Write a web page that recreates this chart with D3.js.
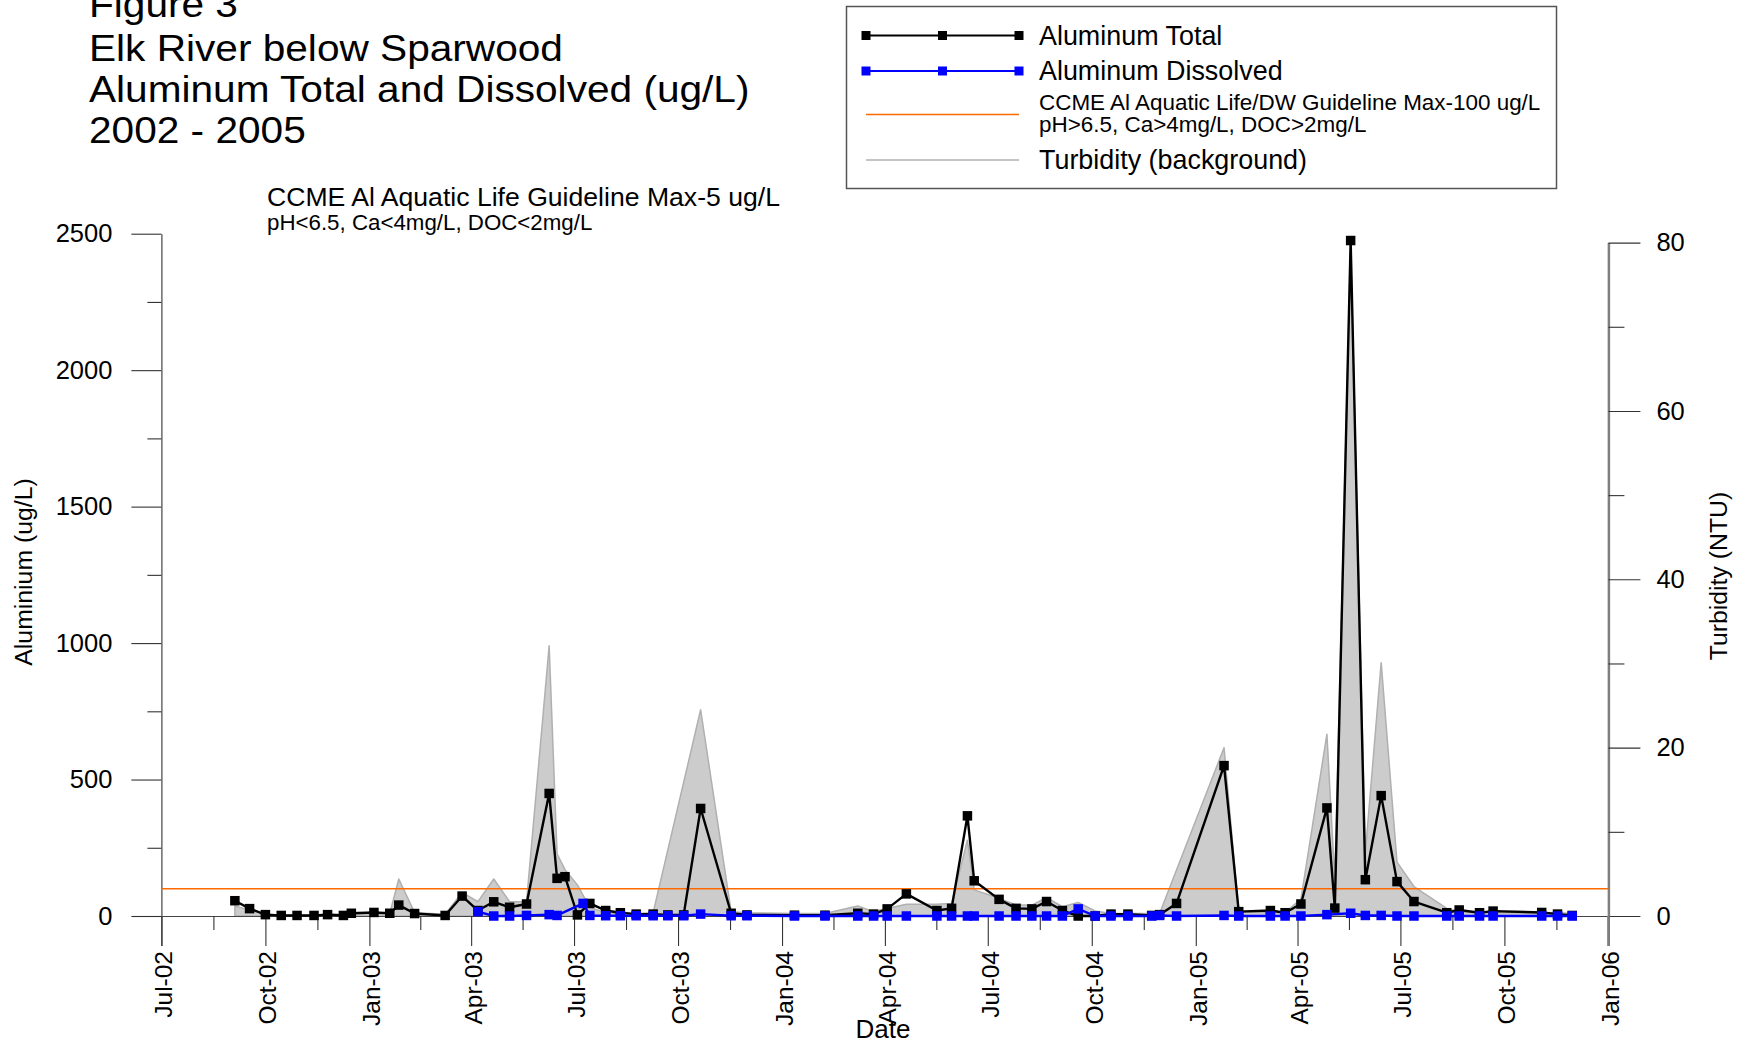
<!DOCTYPE html>
<html>
<head>
<meta charset="utf-8">
<script src="https://cdn.jsdelivr.net/npm/d3@7"></script>
<style>
  html, body { margin: 0; padding: 0; background: #ffffff; }
  svg { display: block; font-family: "Liberation Sans", Arial, sans-serif; }
</style>
</head>
<body>
<svg id="chart" width="1745" height="1044"></svg>
<script>
// ---------------- DATA ----------------
const titleLines = ["Figure 3", "Elk River below Sparwood", "Aluminum Total and Dissolved (ug/L)", "2002 - 2005"];
const subtitleLines = ["CCME Al Aquatic Life Guideline Max-5 ug/L", "pH<6.5, Ca<4mg/L, DOC<2mg/L"];
const legendLabels = ["Aluminum Total", "Aluminum Dissolved",
  "CCME Al Aquatic Life/DW Guideline Max-100 ug/L", "pH>6.5, Ca>4mg/L, DOC>2mg/L",
  "Turbidity (background)"];
const leftAxisTitle = "Aluminium (ug/L)";
const rightAxisTitle = "Turbidity (NTU)";
const xAxisTitle = "Date";

const xTickLabels = ["Jul-02","Oct-02","Jan-03","Apr-03","Jul-03","Oct-03","Jan-04","Apr-04",
  "Jul-04","Oct-04","Jan-05","Apr-05","Jul-05","Oct-05","Jan-06"];
const leftTicks = [0, 500, 1000, 1500, 2000, 2500];
const leftMinorTicks = [250, 750, 1250, 1750, 2250];
const rightTicks = [0, 20, 40, 60, 80];
const rightMinorTicks = [10, 30, 50, 70];
const guidelineValue = 100;

const totalDates = ["2002-09-04","2002-09-17","2002-10-01","2002-10-15","2002-10-29","2002-11-13",
  "2002-11-25","2002-12-09","2002-12-16","2003-01-05","2003-01-19","2003-01-27","2003-02-10",
  "2003-03-09","2003-03-24","2003-04-07","2003-04-21","2003-05-05","2003-05-20","2003-06-09",
  "2003-06-16","2003-06-23","2003-07-04","2003-07-15","2003-07-29","2003-08-11","2003-08-25",
  "2003-09-09","2003-09-22","2003-10-06","2003-10-21","2003-11-17","2003-12-01","2004-01-12",
  "2004-02-08","2004-03-08","2004-03-22","2004-04-03","2004-04-20","2004-05-17","2004-05-30",
  "2004-06-13","2004-06-19","2004-07-11","2004-07-26","2004-08-09","2004-08-22","2004-09-05",
  "2004-09-19","2004-10-04","2004-10-18","2004-11-02","2004-11-23","2004-11-30","2004-12-15",
  "2005-01-26","2005-02-08","2005-03-08","2005-03-21","2005-04-04","2005-04-27","2005-05-04",
  "2005-05-18","2005-05-31","2005-06-14","2005-06-28","2005-07-13","2005-08-11","2005-08-22",
  "2005-09-09","2005-09-21","2005-11-03","2005-11-17","2005-11-30"];
const totalValues = [56,27,5,2,2,2,
  5,2,10,13,10,40,9,
  2,73,20,52,32,44,449,
  138,144,4,46,20,12,7,
  7,4,4,394,10,4,3,
  3,10,7,26,81,20,28,
  367,129,61,28,26,53,20,
  0,0,7,7,2,5,46,
  551,16,20,12,44,396,29,
  2475,133,441,126,53,12,22,
  12,18,13,7,2];

const dissolvedDates = ["2003-04-07","2003-04-21","2003-05-05","2003-05-20","2003-06-09","2003-06-16",
  "2003-07-09","2003-07-15","2003-07-29","2003-08-11","2003-08-25","2003-09-09","2003-09-22",
  "2003-10-06","2003-10-21","2003-11-17","2003-12-01","2004-01-12","2004-02-08","2004-03-08",
  "2004-03-22","2004-04-03","2004-04-20","2004-05-17","2004-05-30","2004-06-13","2004-06-19",
  "2004-07-11","2004-07-26","2004-08-09","2004-08-22","2004-09-05","2004-09-19","2004-10-04",
  "2004-10-18","2004-11-02","2004-11-23","2004-11-30","2004-12-15","2005-01-26","2005-02-08",
  "2005-03-08","2005-03-21","2005-04-04","2005-04-27","2005-05-18","2005-05-31","2005-06-14",
  "2005-06-28","2005-07-13","2005-08-11","2005-08-22","2005-09-09","2005-09-21","2005-11-03",
  "2005-11-17","2005-11-30"];
const dissolvedValues = [16,0,0,2,5,2,
  46,2,1,1,1,1,1,
  1,7,1,1,0,0,0,
  0,0,0,0,0,0,0,
  0,0,0,0,0,26,0,
  0,0,0,2,0,2,0,
  0,0,0,5,10,2,2,
  0,0,0,0,0,0,0,
  0,0];

const turbidityDates = ["2002-09-04","2002-09-17","2002-10-01","2002-10-15","2002-10-29","2002-11-13",
  "2002-11-25","2002-12-09","2002-12-16","2003-01-05","2003-01-19","2003-01-27","2003-02-10",
  "2003-03-09","2003-03-24","2003-04-07","2003-04-21","2003-05-05","2003-05-20","2003-06-09",
  "2003-06-16","2003-06-23","2003-07-04","2003-07-15","2003-07-29","2003-08-11","2003-08-25",
  "2003-09-09","2003-10-21","2003-11-17","2003-12-01","2004-01-12","2004-02-08","2004-03-08",
  "2004-03-22","2004-04-03","2004-04-20","2004-05-17","2004-05-30","2004-06-13","2004-06-19",
  "2004-07-11","2004-07-26","2004-08-09","2004-08-22","2004-09-05","2004-09-19","2004-10-04",
  "2004-10-18","2004-11-02","2004-11-23","2004-11-30","2005-01-26","2005-02-08","2005-03-08",
  "2005-03-21","2005-04-04","2005-04-27","2005-05-04","2005-05-18","2005-05-31","2005-06-14",
  "2005-06-28","2005-07-13","2005-08-11","2005-08-22","2005-09-09","2005-09-21","2005-11-03",
  "2005-11-17","2005-11-30"];
const turbidityValues = [1.2,0.7,0.2,0.1,0.1,0.1,
  0.2,0.2,0.2,0.3,0.3,4.4,0.4,
  0.2,2.8,1.7,4.4,1.7,1.7,32.1,
  7.4,5.5,3.7,1.0,0.4,0.3,0.3,
  0.4,24.5,0.5,0.4,0.3,0.3,1.2,
  0.5,0.9,1.4,1.4,1.5,9,3.1,
  2.1,1.3,1.3,2.2,1.1,1.6,0.6,
  0.3,0.3,0.3,0.3,20,0.5,0.4,
  0.4,2.0,21.6,4.2,79.4,7.5,30.1,
  6.4,3.5,0.9,0.5,0.4,0.4,0.4,
  0.4,0.3];

// ---------------- DRAW ----------------
const parse = d3.timeParse("%Y-%m-%d");
const parseTick = d3.timeParse("%b-%y");
const fmtTick = d3.timeFormat("%b-%y");
const FONT = "Liberation Sans, Arial, sans-serif";

const svg = d3.select("#chart");
const W = 1745, H = 1044;
svg.append("rect").attr("width", W).attr("height", H).attr("fill", "#fff");

const plotLeft = 161.4, plotRight = 1608.4, plotBottom = 916;
const tickDates = xTickLabels.map(parseTick);
const x = d3.scaleTime().domain([tickDates[0], tickDates[tickDates.length - 1]]).range([plotLeft, plotRight]);
const yL = d3.scaleLinear().domain([0, 2500]).range([plotBottom, 233.7]);
const yR = d3.scaleLinear().domain([0, 80]).range([plotBottom, 242.6]);

const total = totalDates.map((d, i) => ({ date: parse(d), v: totalValues[i] }));
const dissolved = dissolvedDates.map((d, i) => ({ date: parse(d), v: dissolvedValues[i] }));
const turb = turbidityDates.map((d, i) => ({ date: parse(d), v: turbidityValues[i] }));

// Titles (slightly condensed font size, stretched horizontally to match widths)
const tg = svg.append("g");
const titleY = [17, 61, 101.5, 142.5];
const titleSize = 36, titleTarget = 40.6;
titleLines.forEach((t, i) => {
  const el = tg.append("text").attr("x", 89).attr("y", titleY[i]).attr("font-size", titleSize).attr("fill", "#000").text(t);
  const len = el.node().getComputedTextLength();
  el.attr("textLength", len * titleTarget / titleSize).attr("lengthAdjust", "spacingAndGlyphs");
});
tg.append("text").attr("x", 267).attr("y", 206).attr("font-size", 26.6).text(subtitleLines[0]);
tg.append("text").attr("x", 267).attr("y", 230).attr("font-size", 22.3).text(subtitleLines[1]);

// Turbidity area (right axis)
const area = d3.area().x(d => x(d.date)).y0(yR(0)).y1(d => yR(d.v));
svg.append("path").datum(turb).attr("d", area)
  .attr("fill", "#cccccc").attr("stroke", "#b0b0b0").attr("stroke-width", 1.5).attr("stroke-linejoin", "round");

// X axis (bottom) major + minor ticks
const xAxisG = svg.append("g").attr("transform", `translate(0,${plotBottom})`);
xAxisG.call(d3.axisBottom(x).tickValues(tickDates).tickSize(30).tickFormat(fmtTick));
xAxisG.select(".domain").attr("stroke", "#444").attr("stroke-width", 1.2);
xAxisG.selectAll(".tick line").attr("stroke", "#333").attr("stroke-width", 1.1);
xAxisG.selectAll(".tick text")
  .attr("transform", "rotate(-90)")
  .attr("x", -35).attr("y", 0).attr("dy", "0.42em")
  .attr("text-anchor", "end")
  .attr("font-size", 24.5).attr("font-family", FONT).attr("fill", "#000");
const minorX = d3.pairs(tickDates).map(([a, b]) => new Date((+a + +b) / 2));
const xMinorG = svg.append("g").attr("transform", `translate(0,${plotBottom})`);
xMinorG.call(d3.axisBottom(x).tickValues(minorX).tickSize(14).tickFormat(""));
xMinorG.select(".domain").remove();
xMinorG.selectAll(".tick line").attr("stroke", "#333").attr("stroke-width", 1.1);

// Left axis
const yLG = svg.append("g").attr("transform", `translate(${plotLeft},0)`);
yLG.call(d3.axisLeft(yL).tickValues(leftTicks).tickSize(30).tickPadding(19).tickSizeOuter(0).tickFormat(d3.format("d")));
yLG.select(".domain").attr("stroke", "#444").attr("stroke-width", 1.2);
yLG.selectAll(".tick line").attr("stroke", "#333").attr("stroke-width", 1.1);
yLG.selectAll(".tick text").attr("font-size", 25.5).attr("font-family", FONT).attr("fill", "#000");
const yLMinor = svg.append("g").attr("transform", `translate(${plotLeft},0)`);
yLMinor.call(d3.axisLeft(yL).tickValues(leftMinorTicks).tickSize(14).tickFormat(""));
yLMinor.select(".domain").remove();
yLMinor.selectAll(".tick line").attr("stroke", "#333").attr("stroke-width", 1.1);

// Right axis
const yRG = svg.append("g").attr("transform", `translate(${plotRight},0)`);
yRG.call(d3.axisRight(yR).tickValues(rightTicks).tickSize(32).tickPadding(16).tickSizeOuter(0).tickFormat(d3.format("d")));
yRG.select(".domain").attr("stroke", "#7f7f7f").attr("stroke-width", 2.5);
yRG.selectAll(".tick line").attr("stroke", "#333").attr("stroke-width", 1.1);
yRG.selectAll(".tick text").attr("font-size", 25.5).attr("font-family", FONT).attr("fill", "#000");
const yRMinor = svg.append("g").attr("transform", `translate(${plotRight},0)`);
yRMinor.call(d3.axisRight(yR).tickValues(rightMinorTicks).tickSize(16).tickFormat(""));
yRMinor.select(".domain").remove();
yRMinor.selectAll(".tick line").attr("stroke", "#333").attr("stroke-width", 1.1);
svg.append("line").attr("x1", plotRight).attr("x2", plotRight).attr("y1", yR(0)).attr("y2", plotBottom + 30)
  .attr("stroke", "#7f7f7f").attr("stroke-width", 2.5);

// Guideline (orange)
svg.append("line").attr("x1", plotLeft).attr("x2", plotRight)
  .attr("y1", yL(guidelineValue)).attr("y2", yL(guidelineValue))
  .attr("stroke", "#ff6a00").attr("stroke-width", 1.6);

// Total (black)
const lineL = d3.line().x(d => x(d.date)).y(d => yL(d.v));
const MS = 9.5;
svg.append("path").datum(total).attr("d", lineL).attr("fill", "none")
  .attr("stroke", "#000").attr("stroke-width", 2.4).attr("stroke-linejoin", "round");
svg.append("g").selectAll("rect").data(total).join("rect")
  .attr("x", d => x(d.date) - MS / 2).attr("y", d => yL(d.v) - MS / 2).attr("width", MS).attr("height", MS).attr("fill", "#000");

// Dissolved (blue)
svg.append("path").datum(dissolved).attr("d", lineL).attr("fill", "none")
  .attr("stroke", "#0000ff").attr("stroke-width", 2.4).attr("stroke-linejoin", "round");
svg.append("g").selectAll("rect").data(dissolved).join("rect")
  .attr("x", d => x(d.date) - MS / 2).attr("y", d => yL(d.v) - MS / 2).attr("width", MS).attr("height", MS).attr("fill", "#0000ff");

// Axis titles
svg.append("text").attr("transform", `translate(32,572) rotate(-90)`).attr("text-anchor", "middle")
  .attr("font-size", 24.8).text(leftAxisTitle);
svg.append("text").attr("transform", `translate(1727,576) rotate(-90)`).attr("text-anchor", "middle")
  .attr("font-size", 24.8).text(rightAxisTitle);
svg.append("text").attr("x", 883).attr("y", 1038).attr("text-anchor", "middle")
  .attr("font-size", 26).text(xAxisTitle);

// Legend
const lg = svg.append("g");
lg.append("rect").attr("x", 846.5).attr("y", 6.5).attr("width", 710).attr("height", 182)
  .attr("fill", "#fff").attr("stroke", "#555").attr("stroke-width", 1.5);
const lx1 = 866, lx2 = 1019, ltx = 1039;
const lmid = (lx1 + lx2) / 2;
lg.append("line").attr("x1", lx1).attr("x2", lx2).attr("y1", 35.5).attr("y2", 35.5).attr("stroke", "#000").attr("stroke-width", 2.2);
[lx1, lmid, lx2].forEach(px => lg.append("rect").attr("x", px - 4.5).attr("y", 31).attr("width", 9).attr("height", 9).attr("fill", "#000"));
lg.append("text").attr("x", ltx).attr("y", 44.5).attr("font-size", 26.9).text(legendLabels[0]);
lg.append("line").attr("x1", lx1).attr("x2", lx2).attr("y1", 71).attr("y2", 71).attr("stroke", "#0000ff").attr("stroke-width", 2.2);
[lx1, lmid, lx2].forEach(px => lg.append("rect").attr("x", px - 4.5).attr("y", 66.5).attr("width", 9).attr("height", 9).attr("fill", "#0000ff"));
lg.append("text").attr("x", ltx).attr("y", 80).attr("font-size", 26.9).text(legendLabels[1]);
lg.append("line").attr("x1", lx1).attr("x2", lx2).attr("y1", 114.5).attr("y2", 114.5).attr("stroke", "#ff6a00").attr("stroke-width", 1.6);
lg.append("text").attr("x", ltx).attr("y", 110).attr("font-size", 22.45).text(legendLabels[2]);
lg.append("text").attr("x", ltx).attr("y", 132).attr("font-size", 22.45).text(legendLabels[3]);
lg.append("line").attr("x1", lx1).attr("x2", lx2).attr("y1", 160).attr("y2", 160).attr("stroke", "#c4c4c4").attr("stroke-width", 2);
lg.append("text").attr("x", ltx).attr("y", 169).attr("font-size", 26.9).text(legendLabels[4]);
</script>
</body>
</html>
